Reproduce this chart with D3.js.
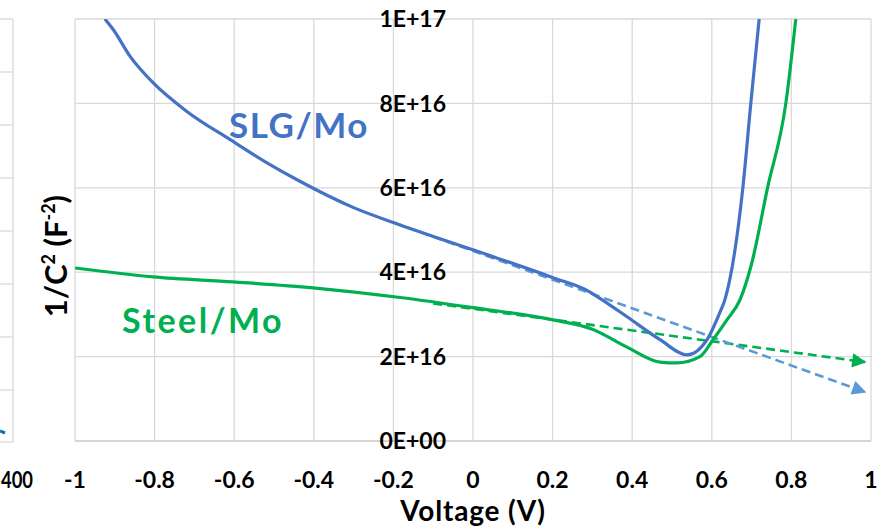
<!DOCTYPE html>
<html>
<head>
<meta charset="utf-8">
<script src="https://cdn.jsdelivr.net/npm/d3@7"></script>
<style>
  body { margin: 0; background: #fff; }
  svg text { font-family: Lato, "Open Sans", sans-serif; font-weight: bold; }
</style>
</head>
<body>
<svg id="chart" width="884" height="527"></svg>
<script>
// 1/C^2 vs voltage (Mott-Schottky)
const xTicks = [-1, -0.8, -0.6, -0.4, -0.2, 0, 0.2, 0.4, 0.6, 0.8, 1]
const yTicks = [0, 2e16, 4e16, 6e16, 8e16, 1e17]

const slgV = [-0.925, -0.904, -0.862, -0.804, -0.719, -0.61, -0.51, -0.442, -0.30, -0.183, 0, 0.201, 0.294, 0.319, 0.386, 0.47, 0.538, 0.588, 0.62, 0.633, 0.678, 0.698, 0.719]
const slgC = [10.0e16, 9.75e16, 9.12e16, 8.49e16, 7.81e16, 7.14e16, 6.55e16, 6.19e16, 5.53e16, 5.12e16, 4.53e16, 3.87e16, 3.53e16, 3.38e16, 2.95e16, 2.4e16, 2.04e16, 2.4e16, 3.04e16, 3.35e16, 6.0e16, 8.0e16, 10.0e16]

const steelV = [-1, -0.804, -0.603, -0.402, -0.183, 0, 0.201, 0.30, 0.386, 0.47, 0.512, 0.57, 0.603, 0.638, 0.671, 0.70, 0.74, 0.786, 0.811]
const steelC = [4.1e16, 3.89e16, 3.77e16, 3.63e16, 3.40e16, 3.16e16, 2.87e16, 2.65e16, 2.23e16, 1.87e16, 1.85e16, 2.0e16, 2.4e16, 2.87e16, 3.35e16, 4.2e16, 6.0e16, 8.0e16, 10.0e16]

// linear fits (dashed, with arrows)
const slgFitV = [-0.2, 0.985]
const slgFitC = [5.18e16, 1.16e16]
const steelFitV = [-0.1, 0.985]
const steelFitC = [3.26e16, 1.87e16]

const svg = d3.select("#chart")
const x = d3.scaleLinear().domain([-1, 1]).range([75, 871])
const y = d3.scaleLinear().domain([0, 1e17]).range([441, 19])

const fmtE = d => d === 0 ? "0E+00" : d.toExponential(0).toUpperCase()

// bit of the neighbouring chart cut off at the left
let leftGrid = [19, 72, 125, 178, 231, 284, 337, 390, 442]
svg.append("g").selectAll("line").data(leftGrid).enter().append("line")
  .attr("x1", 0).attr("x2", 13).attr("y1", d => d).attr("y2", d => d)
  .attr("stroke", "#d9d9d9").attr("stroke-width", 1.3)
svg.append("line").attr("x1", 13).attr("x2", 13).attr("y1", 19).attr("y2", 442)
  .attr("stroke", "#d9d9d9").attr("stroke-width", 1.3)
svg.append("line").attr("x1", 0).attr("x2", 5).attr("y1", 431).attr("y2", 433)
  .attr("stroke", "#0070C0").attr("stroke-width", 3)
svg.append("text").attr("x", 1).attr("y", 488)
  .attr("font-size", 23).attr("textLength", 32).attr("lengthAdjust", "spacingAndGlyphs").text("400")

// grid
svg.append("g").selectAll("line").data(xTicks).enter().append("line")
  .attr("x1", d => x(d)).attr("x2", d => x(d)).attr("y1", y(0)).attr("y2", y(1e17))
  .attr("stroke", "#d9d9d9").attr("stroke-width", 1.3)
svg.append("g").selectAll("line").data(yTicks).enter().append("line")
  .attr("x1", x(-1)).attr("x2", x(1)).attr("y1", d => y(d)).attr("y2", d => y(d))
  .attr("stroke", d => d === 0 ? "#c8c8c8" : "#d9d9d9").attr("stroke-width", 1.3)

// tick labels
svg.append("g").selectAll("text").data(xTicks).enter().append("text")
  .attr("x", d => x(d)).attr("y", 488).attr("text-anchor", "middle")
  .attr("font-size", 23).text(d => String(d))
svg.append("g").selectAll("text").data(yTicks).enter().append("text")
  .attr("x", x(0) - 27).attr("y", d => y(d)).attr("dy", "0.36em").attr("text-anchor", "end")
  .attr("font-size", 23).text(fmtE)

// axis titles
svg.append("text").attr("x", x(0)).attr("y", 521).attr("text-anchor", "middle")
  .attr("font-size", 28).attr("letter-spacing", 0.8).text("Voltage (V)")
let yt = svg.append("text").attr("transform", "translate(67,256) rotate(-90)")
  .attr("text-anchor", "middle").attr("font-size", 31)
yt.append("tspan").text("1/C")
yt.append("tspan").attr("font-size", 18).attr("dy", -12).text("2")
yt.append("tspan").attr("dy", 12).text(" (F")
yt.append("tspan").attr("font-size", 18).attr("dy", -12).text("-2")
yt.append("tspan").attr("dy", 12).text(")")

// arrow markers + plot clip
const defs = svg.append("defs")
defs.append("clipPath").attr("id", "plot").append("rect")
  .attr("x", x(-1)).attr("y", y(1e17)).attr("width", x(1) - x(-1)).attr("height", y(0) - y(1e17))
;[["arrBlue", "#5B9BD5"], ["arrGreen", "#00B050"]].forEach(([id, c]) => {
  defs.append("marker").attr("id", id).attr("viewBox", "0 0 10 10")
    .attr("refX", 9).attr("refY", 5).attr("markerWidth", 6).attr("markerHeight", 5.5)
    .attr("markerUnits", "strokeWidth").attr("orient", "auto")
    .append("path").attr("d", "M0,0 L10,5 L0,10 Z").attr("fill", c)
})

// dashed fits first, solid curves over them
const straight = d3.line().x(d => x(d[0])).y(d => y(d[1]))
svg.append("path").datum(d3.zip(steelFitV, steelFitC)).attr("d", straight)
  .attr("fill", "none").attr("stroke", "#00B050").attr("stroke-width", 2.6)
  .attr("stroke-dasharray", "9,5").attr("marker-end", "url(#arrGreen)")
svg.append("path").datum(d3.zip(slgFitV, slgFitC)).attr("d", straight)
  .attr("fill", "none").attr("stroke", "#5B9BD5").attr("stroke-width", 2.6)
  .attr("stroke-dasharray", "9,5").attr("marker-end", "url(#arrBlue)")

const line = d3.line().x(d => x(d[0])).y(d => y(d[1])).curve(d3.curveMonotoneX)
const g = svg.append("g").attr("clip-path", "url(#plot)")
g.append("path").datum(d3.zip(steelV, steelC)).attr("d", line)
  .attr("fill", "none").attr("stroke", "#00B050").attr("stroke-width", 3.2)
g.append("path").datum(d3.zip(slgV, slgC)).attr("d", line)
  .attr("fill", "none").attr("stroke", "#4472C4").attr("stroke-width", 3.2)

// series labels
svg.append("text").attr("x", 229).attr("y", 138).attr("font-size", 35)
  .attr("letter-spacing", 1.5).attr("fill", "#4472C4").text("SLG/Mo")
svg.append("text").attr("x", 122).attr("y", 333).attr("font-size", 34)
  .attr("letter-spacing", 2.5).attr("fill", "#00B050").text("Steel/Mo")
</script>
</body>
</html>
